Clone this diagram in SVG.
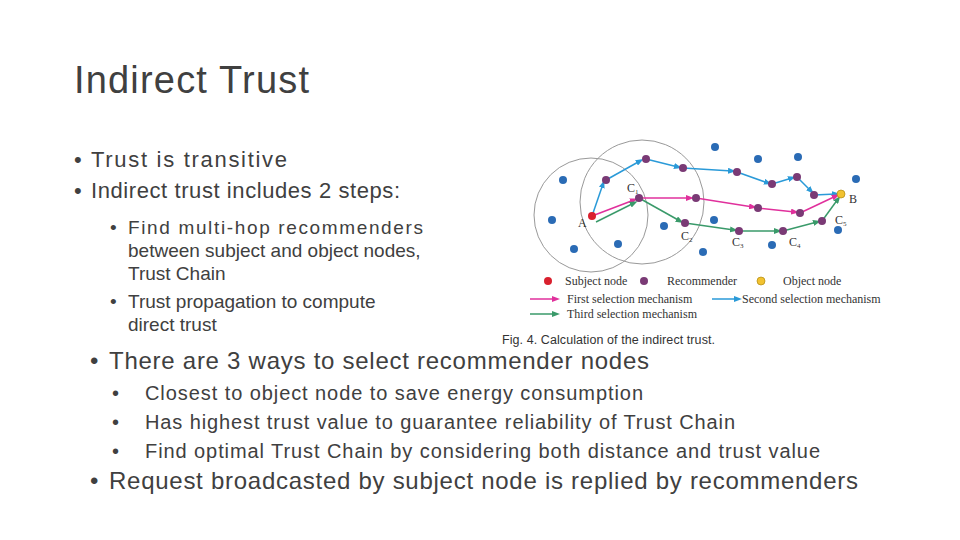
<svg xmlns="http://www.w3.org/2000/svg" width="960" height="540" viewBox="0 0 960 540">
<defs>
<style>
.t{font-family:"Liberation Sans",Arial,sans-serif;fill:#404040}
.f{font-family:"Liberation Serif","Times New Roman",serif;fill:#333;font-size:12px}
.c{font-family:Arial,"Liberation Sans",sans-serif;fill:#333;font-size:12.5px}
.b{fill:#2a6bb5}.r{fill:#7a3a75}
.pk{stroke:#e0309c;stroke-width:1.5;fill:none;marker-end:url(#mp)}
.bl{stroke:#2a9ad8;stroke-width:1.5;fill:none;marker-end:url(#mb)}
.gr{stroke:#3a9a6a;stroke-width:1.5;fill:none;marker-end:url(#mg)}
</style>
<marker id="mp" markerWidth="8" markerHeight="6" refX="4" refY="3" orient="auto" markerUnits="userSpaceOnUse"><path d="M0,0L8,3L0,6z" fill="#e0309c"/></marker>
<marker id="mb" markerWidth="8" markerHeight="6" refX="4" refY="3" orient="auto" markerUnits="userSpaceOnUse"><path d="M0,0L8,3L0,6z" fill="#2a9ad8"/></marker>
<marker id="mg" markerWidth="8" markerHeight="6" refX="4" refY="3" orient="auto" markerUnits="userSpaceOnUse"><path d="M0,0L8,3L0,6z" fill="#3a9a6a"/></marker>
</defs>
<rect width="960" height="540" fill="#fff"/>
<text class="t" x="74" y="93" font-size="38" textLength="235">Indirect Trust</text>
<g class="t" font-size="22">
<text x="74" y="167">• <tspan x="91" textLength="196">Trust is transitive</tspan></text>
<text x="74" y="198">• <tspan x="91" textLength="309">Indirect trust includes 2 steps:</tspan></text>
</g>
<g class="t" font-size="19">
<text x="110" y="234">• <tspan x="128" textLength="295">Find multi-hop recommenders</tspan></text>
<text x="128" y="257">between subject and object nodes,</text>
<text x="128" y="280">Trust Chain</text>
<text x="110" y="308">• <tspan x="128">Trust propagation to compute</tspan></text>
<text x="128" y="331">direct trust</text>
</g>
<g class="t" font-size="24">
<text x="90" y="369">• <tspan x="109" textLength="540">There are 3 ways to select recommender nodes</tspan></text>
<text x="90" y="489">• <tspan x="109" textLength="749">Request broadcasted by subject node is replied by recommenders</tspan></text>
</g>
<g class="t" font-size="20">
<text x="112" y="400">• <tspan x="145" textLength="498">Closest to object node to save energy consumption</tspan></text>
<text x="112" y="429">• <tspan x="145" textLength="590">Has highest trust value to guarantee reliability of Trust Chain</tspan></text>
<text x="112" y="458">• <tspan x="145" textLength="675">Find optimal Trust Chain by considering both distance and trust value</tspan></text>
</g>
<g id="figure">
<circle cx="591" cy="215" r="57" fill="none" stroke="#999"/>
<circle cx="642" cy="202" r="62" fill="none" stroke="#999"/>
<g id="connectors">
<path class="bl" d="M592,216L603,184"/><path class="bl" d="M606,180L640,161"/><path class="bl" d="M646,159L678,167"/>
<path class="bl" d="M683,168L732,171"/><path class="bl" d="M737,172L768,183"/><path class="bl" d="M772,184L792,178"/>
<path class="bl" d="M797,177L811,191"/><path class="bl" d="M814,195L836,194"/>
<path class="pk" d="M592,216L634,200"/><path class="pk" d="M639,198L690,198"/><path class="pk" d="M696,198L753,207"/>
<path class="pk" d="M758,208L795,212"/><path class="pk" d="M800,213L836,196"/>
<path class="gr" d="M596,222L634,203"/><path class="gr" d="M639,198L680,221"/><path class="gr" d="M685,223L734,230"/>
<path class="gr" d="M739,231L778,231"/><path class="gr" d="M783,231L817,222"/><path class="gr" d="M822,221L838,199"/>
</g>
<g id="nodes">
<circle class="b" cx="715" cy="147" r="4"/><circle class="b" cx="758" cy="159" r="4"/><circle class="b" cx="798" cy="157" r="4"/>
<circle class="b" cx="856" cy="179" r="4"/><circle class="b" cx="563" cy="180" r="4"/><circle class="b" cx="552" cy="220" r="4"/>
<circle class="b" cx="664" cy="226" r="4"/><circle class="b" cx="714" cy="220" r="4"/><circle class="b" cx="838" cy="230" r="4"/>
<circle class="b" cx="772" cy="245" r="4"/><circle class="b" cx="703" cy="252" r="4"/><circle class="b" cx="618" cy="244" r="4"/>
<circle class="b" cx="574" cy="249" r="4"/>
<circle class="r" cx="606" cy="180" r="4"/><circle class="r" cx="646" cy="159" r="4"/><circle class="r" cx="683" cy="168" r="4"/>
<circle class="r" cx="737" cy="172" r="4"/><circle class="r" cx="772" cy="184" r="4"/><circle class="r" cx="797" cy="177" r="4"/>
<circle class="r" cx="814" cy="195" r="4"/><circle class="r" cx="639" cy="198" r="4"/><circle class="r" cx="696" cy="198" r="4"/>
<circle class="r" cx="758" cy="208" r="4"/><circle class="r" cx="800" cy="213" r="4"/><circle class="r" cx="685" cy="223" r="4"/>
<circle class="r" cx="739" cy="231" r="4"/><circle class="r" cx="783" cy="231" r="4"/><circle class="r" cx="822" cy="221" r="4"/>
<circle cx="592" cy="216" r="4" fill="#d9202e"/>
<circle cx="841" cy="194" r="4" fill="#f2c230" stroke="#b08a10" stroke-width="0.7"/>
</g>
<g class="f">
<text x="578" y="227">A</text><text x="627" y="192">C<tspan font-size="7" dy="2">1</tspan></text>
<text x="681" y="240">C<tspan font-size="7" dy="2">2</tspan></text><text x="732" y="246">C<tspan font-size="7" dy="2">3</tspan></text>
<text x="789" y="246">C<tspan font-size="7" dy="2">4</tspan></text><text x="835" y="224">C<tspan font-size="7" dy="2">5</tspan></text>
<text x="849" y="203">B</text>
</g>
<g id="legend">
<circle cx="548" cy="281" r="4" fill="#d9202e"/><text class="f" x="565" y="285">Subject node</text>
<circle class="r" cx="644" cy="281" r="4"/><text class="f" x="667" y="285">Recommender</text>
<circle cx="761" cy="281" r="4" fill="#f2c230" stroke="#b08a10" stroke-width="0.7"/><text class="f" x="783" y="285">Object node</text>
<path class="pk" d="M530,299L556,299"/><text class="f" x="567" y="303">First selection mechanism</text>
<path class="bl" d="M712,299L738,299"/><text class="f" x="742" y="303">Second selection mechanism</text>
<path class="gr" d="M530,314L556,314"/><text class="f" x="567" y="318">Third selection mechanism</text>
<text class="c" x="502" y="344" textLength="213">Fig. 4. Calculation of the indirect trust.</text>
</g>
</g>
</svg>
